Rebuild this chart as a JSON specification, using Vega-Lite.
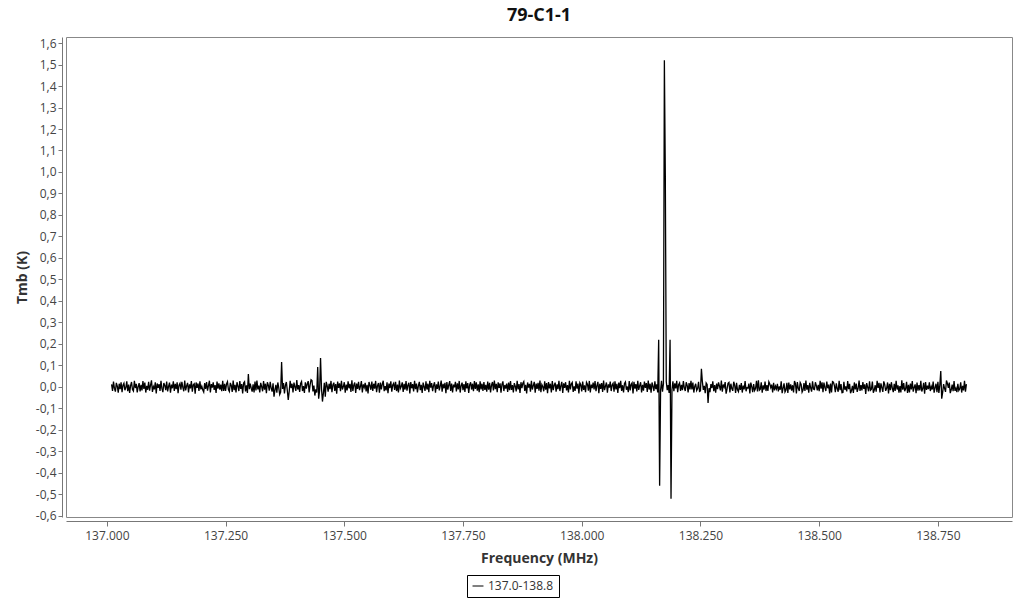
{
"$schema": "https://vega.github.io/schema/vega-lite/v6.json",
"width": 946, "height": 480,
"autosize": {"type": "none"},
"padding": {"left": 66, "top": 37, "right": 12, "bottom": 83},
"background": "white",
"title": {"text": "79-C1-1", "fontSize": 18, "font": "Open Sans", "fontWeight": "bold", "color": "#111111", "anchor": "middle", "offset": 12},
"config": {"view": {"stroke": "#888888", "strokeWidth": 1}, "font": "Open Sans"},
"data": {"values": [
{"f":137.010,"t":0.012},{"f":137.012,"t":-0.018},{"f":137.014,"t":0.025},{"f":137.016,"t":-0.007},{"f":137.018,"t":-0.022},{"f":137.020,"t":0.019},{"f":137.022,"t":0.004},{"f":137.024,"t":-0.027},{"f":137.026,"t":0.015},{"f":137.028,"t":-0.010},
{"f":137.030,"t":0.021},{"f":137.032,"t":-0.024},{"f":137.034,"t":0.008},{"f":137.036,"t":0.017},{"f":137.038,"t":-0.015},{"f":137.040,"t":-0.003},{"f":137.042,"t":0.026},{"f":137.044,"t":-0.020},{"f":137.046,"t":0.011},{"f":137.048,"t":-0.028},
{"f":137.050,"t":0.006},{"f":137.052,"t":0.023},{"f":137.054,"t":-0.012},{"f":137.056,"t":-0.019},{"f":137.058,"t":0.029},{"f":137.060,"t":-0.005},{"f":137.062,"t":0.014},{"f":137.064,"t":-0.025},{"f":137.066,"t":0.002},{"f":137.068,"t":0.018},
{"f":137.070,"t":-0.021},{"f":137.072,"t":0.010},{"f":137.074,"t":-0.016},{"f":137.076,"t":0.027},{"f":137.078,"t":-0.009},{"f":137.080,"t":0.020},{"f":137.082,"t":-0.026},{"f":137.084,"t":0.005},{"f":137.086,"t":-0.013},{"f":137.088,"t":0.024},
{"f":137.090,"t":-0.017},{"f":137.092,"t":0.009},{"f":137.094,"t":0.031},{"f":137.096,"t":-0.023},{"f":137.098,"t":0.001},{"f":137.100,"t":-0.011},{"f":137.102,"t":0.022},{"f":137.104,"t":-0.030},{"f":137.106,"t":0.016},{"f":137.108,"t":-0.004},
{"f":137.110,"t":0.013},{"f":137.112,"t":-0.019},{"f":137.114,"t":0.028},{"f":137.116,"t":-0.008},{"f":137.118,"t":-0.024},{"f":137.120,"t":0.018},{"f":137.122,"t":0.007},{"f":137.124,"t":-0.015},{"f":137.126,"t":0.025},{"f":137.128,"t":-0.021},
{"f":137.130,"t":0.003},{"f":137.132,"t":0.020},{"f":137.134,"t":-0.027},{"f":137.136,"t":0.011},{"f":137.138,"t":-0.006},{"f":137.140,"t":0.026},{"f":137.142,"t":-0.018},{"f":137.144,"t":0.014},{"f":137.146,"t":-0.010},{"f":137.148,"t":0.022},
{"f":137.150,"t":-0.029},{"f":137.152,"t":0.008},{"f":137.154,"t":0.017},{"f":137.156,"t":-0.013},{"f":137.158,"t":0.024},{"f":137.160,"t":-0.002},{"f":137.162,"t":-0.020},{"f":137.164,"t":0.030},{"f":137.166,"t":-0.016},{"f":137.168,"t":0.005},
{"f":137.170,"t":0.019},{"f":137.172,"t":-0.025},{"f":137.174,"t":0.012},{"f":137.176,"t":-0.007},{"f":137.178,"t":0.027},{"f":137.180,"t":-0.022},{"f":137.182,"t":0.010},{"f":137.184,"t":0.015},{"f":137.186,"t":-0.031},{"f":137.188,"t":0.021},
{"f":137.190,"t":-0.004},{"f":137.192,"t":0.016},{"f":137.194,"t":-0.019},{"f":137.196,"t":0.026},{"f":137.198,"t":-0.011},{"f":137.200,"t":0.003},{"f":137.202,"t":-0.014},{"f":137.204,"t":-0.024},{"f":137.206,"t":0.018},{"f":137.208,"t":-0.009},
{"f":137.210,"t":0.023},{"f":137.212,"t":-0.017},{"f":137.214,"t":0.006},{"f":137.216,"t":0.029},{"f":137.218,"t":-0.026},{"f":137.220,"t":0.013},{"f":137.222,"t":-0.003},{"f":137.224,"t":0.021},{"f":137.226,"t":-0.014},{"f":137.228,"t":0.009},
{"f":137.230,"t":-0.028},{"f":137.232,"t":0.025},{"f":137.234,"t":-0.008},{"f":137.236,"t":0.017},{"f":137.238,"t":-0.012},{"f":137.240,"t":0.011},{"f":137.242,"t":-0.020},{"f":137.244,"t":0.028},{"f":137.246,"t":-0.019},{"f":137.248,"t":0.014},
{"f":137.250,"t":-0.018},{"f":137.252,"t":0.014},{"f":137.254,"t":0.024},{"f":137.256,"t":-0.012},{"f":137.258,"t":-0.021},{"f":137.260,"t":0.019},{"f":137.262,"t":0.007},{"f":137.264,"t":-0.023},{"f":137.266,"t":0.030},{"f":137.268,"t":-0.015},
{"f":137.270,"t":0.010},{"f":137.272,"t":-0.026},{"f":137.274,"t":0.022},{"f":137.276,"t":0.004},{"f":137.278,"t":-0.019},{"f":137.280,"t":0.027},{"f":137.282,"t":-0.009},{"f":137.284,"t":0.013},{"f":137.286,"t":-0.030},{"f":137.288,"t":0.018},
{"f":137.290,"t":0.024},{"f":137.292,"t":-0.021},{"f":137.294,"t":0.008},{"f":137.296,"t":-0.028},{"f":137.298,"t":0.060},{"f":137.300,"t":-0.010},{"f":137.302,"t":0.016},{"f":137.304,"t":-0.006},{"f":137.306,"t":-0.022},{"f":137.308,"t":0.012},
{"f":137.310,"t":-0.025},{"f":137.312,"t":0.025},{"f":137.314,"t":-0.016},{"f":137.316,"t":0.030},{"f":137.318,"t":-0.011},{"f":137.320,"t":0.006},{"f":137.322,"t":-0.025},{"f":137.324,"t":0.019},{"f":137.326,"t":0.002},{"f":137.328,"t":-0.020},
{"f":137.330,"t":0.027},{"f":137.332,"t":-0.013},{"f":137.334,"t":0.015},{"f":137.336,"t":-0.029},{"f":137.338,"t":0.022},{"f":137.340,"t":0.008},{"f":137.342,"t":-0.017},{"f":137.344,"t":0.024},{"f":137.346,"t":-0.006},{"f":137.348,"t":-0.022},
{"f":137.350,"t":0.017},{"f":137.352,"t":-0.045},{"f":137.354,"t":-0.014},{"f":137.356,"t":0.010},{"f":137.358,"t":-0.027},{"f":137.360,"t":0.021},{"f":137.362,"t":-0.003},{"f":137.364,"t":-0.035},{"f":137.366,"t":-0.024},{"f":137.368,"t":0.116},
{"f":137.370,"t":-0.009},{"f":137.372,"t":0.018},{"f":137.374,"t":-0.030},{"f":137.376,"t":0.007},{"f":137.378,"t":0.023},{"f":137.380,"t":-0.016},{"f":137.382,"t":-0.060},{"f":137.384,"t":-0.021},{"f":137.386,"t":0.028},{"f":137.388,"t":-0.005},
{"f":137.390,"t":0.015},{"f":137.392,"t":-0.026},{"f":137.394,"t":0.020},{"f":137.396,"t":0.001},{"f":137.398,"t":-0.018},{"f":137.400,"t":0.032},{"f":137.402,"t":-0.012},{"f":137.404,"t":0.009},{"f":137.406,"t":-0.023},{"f":137.408,"t":0.016},
{"f":137.410,"t":0.025},{"f":137.412,"t":-0.019},{"f":137.414,"t":0.004},{"f":137.416,"t":-0.028},{"f":137.418,"t":0.022},{"f":137.420,"t":-0.008},{"f":137.422,"t":0.014},{"f":137.424,"t":0.027},{"f":137.426,"t":-0.025},{"f":137.428,"t":0.010},
{"f":137.430,"t":0.034},{"f":137.432,"t":0.030},{"f":137.434,"t":-0.021},{"f":137.436,"t":0.006},{"f":137.438,"t":-0.040},{"f":137.440,"t":-0.011},{"f":137.442,"t":-0.026},{"f":137.444,"t":0.093},{"f":137.446,"t":-0.055},{"f":137.448,"t":-0.017},
{"f":137.450,"t":0.135},{"f":137.452,"t":-0.007},{"f":137.454,"t":-0.068},{"f":137.456,"t":-0.029},{"f":137.458,"t":0.019},{"f":137.460,"t":-0.045},{"f":137.462,"t":0.024},{"f":137.464,"t":0.005},{"f":137.466,"t":-0.022},{"f":137.468,"t":0.015},
{"f":137.470,"t":-0.010},{"f":137.472,"t":0.028},{"f":137.474,"t":-0.024},{"f":137.476,"t":0.009},{"f":137.478,"t":0.020},{"f":137.480,"t":-0.018},{"f":137.482,"t":0.013},{"f":137.484,"t":-0.031},{"f":137.486,"t":0.025},{"f":137.488,"t":-0.004},
{"f":137.490,"t":0.017},{"f":137.492,"t":-0.020},{"f":137.494,"t":0.029},{"f":137.496,"t":-0.012},{"f":137.498,"t":0.002},{"f":137.500,"t":0.022},{"f":137.502,"t":-0.027},{"f":137.504,"t":0.011},{"f":137.506,"t":-0.016},{"f":137.508,"t":0.026},
{"f":137.510,"t":-0.006},{"f":137.512,"t":0.014},{"f":137.514,"t":-0.023},{"f":137.516,"t":0.031},{"f":137.518,"t":-0.019},{"f":137.520,"t":0.008},{"f":137.522,"t":0.021},{"f":137.524,"t":-0.028},{"f":137.526,"t":0.016},{"f":137.528,"t":-0.009},
{"f":137.530,"t":0.024},{"f":137.532,"t":-0.015},{"f":137.534,"t":0.003},{"f":137.536,"t":0.027},{"f":137.538,"t":-0.025},{"f":137.540,"t":0.012},{"f":137.542,"t":-0.002},{"f":137.544,"t":0.019},{"f":137.546,"t":-0.021},{"f":137.548,"t":0.010},
{"f":137.550,"t":-0.030},{"f":137.552,"t":0.023},{"f":137.554,"t":0.007},{"f":137.556,"t":-0.013},{"f":137.558,"t":0.025},{"f":137.560,"t":-0.018},{"f":137.562,"t":0.015},{"f":137.564,"t":-0.008},{"f":137.566,"t":0.028},{"f":137.568,"t":-0.024},
{"f":137.570,"t":0.006},{"f":137.572,"t":0.018},{"f":137.574,"t":-0.027},{"f":137.576,"t":0.020},{"f":137.578,"t":-0.011},{"f":137.580,"t":0.013},{"f":137.582,"t":0.029},{"f":137.584,"t":-0.020},{"f":137.586,"t":0.004},{"f":137.588,"t":-0.016},
{"f":137.590,"t":0.022},{"f":137.592,"t":-0.029},{"f":137.594,"t":0.016},{"f":137.596,"t":-0.005},{"f":137.598,"t":0.026},{"f":137.600,"t":-0.022},{"f":137.602,"t":0.009},{"f":137.604,"t":0.017},{"f":137.606,"t":-0.014},{"f":137.608,"t":0.024},
{"f":137.610,"t":-0.019},{"f":137.612,"t":0.011},{"f":137.614,"t":-0.026},{"f":137.616,"t":0.030},{"f":137.618,"t":-0.008},{"f":137.620,"t":0.002},{"f":137.622,"t":0.021},{"f":137.624,"t":-0.023},{"f":137.626,"t":0.014},{"f":137.628,"t":-0.012},
{"f":137.630,"t":0.027},{"f":137.632,"t":-0.017},{"f":137.634,"t":0.008},{"f":137.636,"t":0.019},{"f":137.638,"t":-0.030},{"f":137.640,"t":0.023},{"f":137.642,"t":-0.006},{"f":137.644,"t":0.013},{"f":137.646,"t":-0.021},{"f":137.648,"t":0.028},
{"f":137.650,"t":-0.010},{"f":137.652,"t":0.016},{"f":137.654,"t":-0.025},{"f":137.656,"t":0.005},{"f":137.658,"t":0.024},{"f":137.660,"t":-0.015},{"f":137.662,"t":0.010},{"f":137.664,"t":-0.028},{"f":137.666,"t":0.020},{"f":137.668,"t":0.001},
{"f":137.670,"t":-0.018},{"f":137.672,"t":0.026},{"f":137.674,"t":-0.012},{"f":137.676,"t":0.015},{"f":137.678,"t":-0.024},{"f":137.680,"t":0.029},{"f":137.682,"t":-0.003},{"f":137.684,"t":0.018},{"f":137.686,"t":-0.020},{"f":137.688,"t":0.007},
{"f":137.690,"t":0.022},{"f":137.692,"t":-0.027},{"f":137.694,"t":0.012},{"f":137.696,"t":-0.009},{"f":137.698,"t":0.025},{"f":137.700,"t":-0.016},{"f":137.702,"t":0.004},{"f":137.704,"t":0.030},{"f":137.706,"t":-0.022},{"f":137.708,"t":0.014},
{"f":137.710,"t":-0.006},{"f":137.712,"t":0.019},{"f":137.714,"t":-0.029},{"f":137.716,"t":0.023},{"f":137.718,"t":-0.013},{"f":137.720,"t":0.009},{"f":137.722,"t":0.027},{"f":137.724,"t":-0.019},{"f":137.726,"t":0.016},{"f":137.728,"t":-0.025},
{"f":137.730,"t":0.011},{"f":137.732,"t":-0.002},{"f":137.734,"t":0.024},{"f":137.736,"t":-0.021},{"f":137.738,"t":0.017},{"f":137.740,"t":-0.011},{"f":137.742,"t":0.028},{"f":137.744,"t":-0.026},{"f":137.746,"t":0.006},{"f":137.748,"t":0.020},
{"f":137.750,"t":-0.015},{"f":137.752,"t":0.013},{"f":137.754,"t":-0.023},{"f":137.756,"t":0.026},{"f":137.758,"t":-0.007},{"f":137.760,"t":0.018},{"f":137.762,"t":-0.028},{"f":137.764,"t":0.010},{"f":137.766,"t":0.022},{"f":137.768,"t":-0.012},
{"f":137.770,"t":0.015},{"f":137.772,"t":-0.020},{"f":137.774,"t":0.027},{"f":137.776,"t":-0.009},{"f":137.778,"t":0.021},{"f":137.780,"t":-0.017},{"f":137.782,"t":0.012},{"f":137.784,"t":-0.024},{"f":137.786,"t":0.026},{"f":137.788,"t":-0.011},
{"f":137.790,"t":0.015},{"f":137.792,"t":-0.018},{"f":137.794,"t":0.023},{"f":137.796,"t":-0.014},{"f":137.798,"t":0.010},{"f":137.800,"t":-0.022},{"f":137.802,"t":0.025},{"f":137.804,"t":-0.013},{"f":137.806,"t":0.019},{"f":137.808,"t":-0.026},
{"f":137.810,"t":0.008},{"f":137.812,"t":0.023},{"f":137.814,"t":-0.016},{"f":137.816,"t":0.030},{"f":137.818,"t":-0.010},{"f":137.820,"t":0.014},{"f":137.822,"t":-0.024},{"f":137.824,"t":0.021},{"f":137.826,"t":-0.004},{"f":137.828,"t":0.017},
{"f":137.830,"t":-0.027},{"f":137.832,"t":0.012},{"f":137.834,"t":0.026},{"f":137.836,"t":-0.019},{"f":137.838,"t":0.009},{"f":137.840,"t":-0.008},{"f":137.842,"t":0.016},{"f":137.844,"t":-0.023},{"f":137.846,"t":0.020},{"f":137.848,"t":-0.015},
{"f":137.850,"t":0.027},{"f":137.852,"t":-0.014},{"f":137.854,"t":0.009},{"f":137.856,"t":-0.025},{"f":137.858,"t":0.018},{"f":137.860,"t":0.004},{"f":137.862,"t":-0.021},{"f":137.864,"t":0.029},{"f":137.866,"t":-0.011},{"f":137.868,"t":0.013},
{"f":137.870,"t":-0.028},{"f":137.872,"t":0.022},{"f":137.874,"t":-0.006},{"f":137.876,"t":0.017},{"f":137.878,"t":0.025},{"f":137.880,"t":-0.018},{"f":137.882,"t":0.010},{"f":137.884,"t":-0.030},{"f":137.886,"t":0.021},{"f":137.888,"t":-0.003},
{"f":137.890,"t":0.014},{"f":137.892,"t":-0.022},{"f":137.894,"t":0.028},{"f":137.896,"t":-0.012},{"f":137.898,"t":0.006},{"f":137.900,"t":0.024},{"f":137.902,"t":-0.027},{"f":137.904,"t":0.016},{"f":137.906,"t":-0.009},{"f":137.908,"t":0.019},
{"f":137.910,"t":-0.017},{"f":137.912,"t":0.030},{"f":137.914,"t":-0.024},{"f":137.916,"t":0.011},{"f":137.918,"t":0.001},{"f":137.920,"t":-0.020},{"f":137.922,"t":0.026},{"f":137.924,"t":-0.013},{"f":137.926,"t":0.018},{"f":137.928,"t":-0.029},
{"f":137.930,"t":0.023},{"f":137.932,"t":-0.007},{"f":137.934,"t":0.015},{"f":137.936,"t":-0.025},{"f":137.938,"t":0.027},{"f":137.940,"t":-0.015},{"f":137.942,"t":0.008},{"f":137.944,"t":0.020},{"f":137.946,"t":-0.022},{"f":137.948,"t":0.012},
{"f":137.950,"t":-0.010},{"f":137.952,"t":0.028},{"f":137.954,"t":-0.019},{"f":137.956,"t":0.005},{"f":137.958,"t":0.024},{"f":137.960,"t":-0.028},{"f":137.962,"t":0.017},{"f":137.964,"t":-0.004},{"f":137.966,"t":0.022},{"f":137.968,"t":-0.016},
{"f":137.970,"t":0.009},{"f":137.972,"t":-0.026},{"f":137.974,"t":0.029},{"f":137.976,"t":-0.011},{"f":137.978,"t":0.014},{"f":137.980,"t":0.021},{"f":137.982,"t":-0.023},{"f":137.984,"t":0.003},{"f":137.986,"t":-0.018},{"f":137.988,"t":0.026},
{"f":137.990,"t":-0.008},{"f":137.992,"t":0.016},{"f":137.994,"t":-0.030},{"f":137.996,"t":0.019},{"f":137.998,"t":0.010},{"f":138.000,"t":-0.021},{"f":138.002,"t":0.025},{"f":138.004,"t":-0.014},{"f":138.006,"t":0.007},{"f":138.008,"t":-0.024},
{"f":138.010,"t":0.022},{"f":138.012,"t":0.013},{"f":138.014,"t":-0.017},{"f":138.016,"t":0.028},{"f":138.018,"t":-0.026},{"f":138.020,"t":0.011},{"f":138.022,"t":-0.005},{"f":138.024,"t":0.020},{"f":138.026,"t":-0.012},{"f":138.028,"t":0.027},
{"f":138.030,"t":-0.020},{"f":138.032,"t":0.006},{"f":138.034,"t":0.024},{"f":138.036,"t":-0.029},{"f":138.038,"t":0.015},{"f":138.040,"t":-0.009},{"f":138.042,"t":0.018},{"f":138.044,"t":-0.023},{"f":138.046,"t":0.030},{"f":138.048,"t":-0.015},
{"f":138.050,"t":0.004},{"f":138.052,"t":0.021},{"f":138.054,"t":-0.027},{"f":138.056,"t":0.012},{"f":138.058,"t":-0.003},{"f":138.060,"t":0.025},{"f":138.062,"t":-0.019},{"f":138.064,"t":0.009},{"f":138.066,"t":0.017},{"f":138.068,"t":-0.022},
{"f":138.070,"t":0.026},{"f":138.072,"t":-0.011},{"f":138.074,"t":0.014},{"f":138.076,"t":-0.028},{"f":138.078,"t":0.020},{"f":138.080,"t":-0.006},{"f":138.082,"t":0.029},{"f":138.084,"t":-0.018},{"f":138.086,"t":0.008},{"f":138.088,"t":-0.025},
{"f":138.090,"t":0.016},{"f":138.092,"t":0.023},{"f":138.094,"t":-0.013},{"f":138.096,"t":0.002},{"f":138.098,"t":-0.024},{"f":138.100,"t":0.027},{"f":138.102,"t":-0.016},{"f":138.104,"t":0.011},{"f":138.106,"t":0.019},{"f":138.108,"t":-0.030},
{"f":138.110,"t":0.024},{"f":138.112,"t":-0.008},{"f":138.114,"t":0.013},{"f":138.116,"t":-0.021},{"f":138.118,"t":0.028},{"f":138.120,"t":-0.014},{"f":138.122,"t":0.006},{"f":138.124,"t":0.022},{"f":138.126,"t":-0.026},{"f":138.128,"t":0.010},
{"f":138.130,"t":-0.017},{"f":138.132,"t":0.025},{"f":138.134,"t":-0.004},{"f":138.136,"t":0.018},{"f":138.138,"t":-0.023},{"f":138.140,"t":0.030},{"f":138.142,"t":-0.012},{"f":138.144,"t":0.015},{"f":138.146,"t":-0.027},{"f":138.148,"t":0.021},
{"f":138.150,"t":0.003},{"f":138.152,"t":-0.019},{"f":138.154,"t":0.026},{"f":138.156,"t":-0.010},{"f":138.158,"t":0.012},{"f":138.160,"t":-0.025},{"f":138.162,"t":0.220},{"f":138.164,"t":-0.460},{"f":138.166,"t":-0.016},{"f":138.168,"t":0.028},
{"f":138.170,"t":-0.022},{"f":138.172,"t":0.014},{"f":138.174,"t":1.520},{"f":138.176,"t":0.980},{"f":138.178,"t":0.024},{"f":138.180,"t":-0.015},{"f":138.182,"t":0.009},{"f":138.184,"t":-0.028},{"f":138.186,"t":0.220},{"f":138.188,"t":-0.520},
{"f":138.190,"t":-0.013},{"f":138.192,"t":0.026},{"f":138.194,"t":-0.020},{"f":138.196,"t":0.017},{"f":138.198,"t":-0.007},{"f":138.200,"t":0.029},{"f":138.202,"t":-0.024},{"f":138.204,"t":0.011},{"f":138.206,"t":0.019},{"f":138.208,"t":-0.018},
{"f":138.210,"t":0.010},{"f":138.212,"t":-0.015},{"f":138.214,"t":0.027},{"f":138.216,"t":-0.004},{"f":138.218,"t":-0.019},{"f":138.220,"t":0.022},{"f":138.222,"t":0.007},{"f":138.224,"t":-0.025},{"f":138.226,"t":0.018},{"f":138.228,"t":-0.012},
{"f":138.230,"t":0.028},{"f":138.232,"t":-0.011},{"f":138.234,"t":0.020},{"f":138.236,"t":-0.026},{"f":138.238,"t":0.003},{"f":138.240,"t":0.015},{"f":138.242,"t":-0.017},{"f":138.244,"t":-0.008},{"f":138.246,"t":0.024},{"f":138.248,"t":-0.021},
{"f":138.250,"t":-0.018},{"f":138.252,"t":0.084},{"f":138.254,"t":0.025},{"f":138.256,"t":-0.014},{"f":138.258,"t":0.005},{"f":138.260,"t":-0.029},{"f":138.262,"t":0.019},{"f":138.264,"t":0.012},{"f":138.266,"t":-0.075},{"f":138.268,"t":-0.006},
{"f":138.270,"t":-0.024},{"f":138.272,"t":0.013},{"f":138.274,"t":-0.005},{"f":138.276,"t":0.026},{"f":138.278,"t":-0.020},{"f":138.280,"t":0.009},{"f":138.282,"t":-0.027},{"f":138.284,"t":0.016},{"f":138.286,"t":-0.010},{"f":138.288,"t":0.021},
{"f":138.290,"t":0.004},{"f":138.292,"t":-0.016},{"f":138.294,"t":0.030},{"f":138.296,"t":-0.022},{"f":138.298,"t":0.011},{"f":138.300,"t":-0.001},{"f":138.302,"t":0.023},{"f":138.304,"t":-0.031},{"f":138.306,"t":-0.009},{"f":138.308,"t":0.017},
{"f":138.310,"t":0.021},{"f":138.312,"t":-0.025},{"f":138.314,"t":0.015},{"f":138.316,"t":-0.007},{"f":138.318,"t":-0.018},{"f":138.320,"t":0.024},{"f":138.322,"t":0.008},{"f":138.324,"t":-0.028},{"f":138.326,"t":0.019},{"f":138.328,"t":-0.013},
{"f":138.330,"t":-0.022},{"f":138.332,"t":0.010},{"f":138.334,"t":-0.014},{"f":138.336,"t":0.018},{"f":138.338,"t":-0.026},{"f":138.340,"t":0.006},{"f":138.342,"t":-0.011},{"f":138.344,"t":0.027},{"f":138.346,"t":-0.020},{"f":138.348,"t":-0.003},
{"f":138.350,"t":-0.005},{"f":138.352,"t":0.016},{"f":138.354,"t":-0.030},{"f":138.356,"t":0.020},{"f":138.358,"t":0.002},{"f":138.360,"t":-0.024},{"f":138.362,"t":0.013},{"f":138.364,"t":-0.017},{"f":138.366,"t":-0.008},{"f":138.368,"t":0.029},
{"f":138.370,"t":-0.021},{"f":138.372,"t":0.031},{"f":138.374,"t":-0.015},{"f":138.376,"t":-0.010},{"f":138.378,"t":0.022},{"f":138.380,"t":-0.027},{"f":138.382,"t":0.007},{"f":138.384,"t":-0.012},{"f":138.386,"t":0.025},{"f":138.388,"t":-0.019},
{"f":138.390,"t":0.009},{"f":138.392,"t":-0.018},{"f":138.394,"t":0.024},{"f":138.396,"t":0.014},{"f":138.398,"t":-0.003},{"f":138.400,"t":0.011},{"f":138.402,"t":-0.026},{"f":138.404,"t":0.019},{"f":138.406,"t":-0.016},{"f":138.408,"t":0.004},
{"f":138.410,"t":-0.009},{"f":138.412,"t":0.014},{"f":138.414,"t":-0.021},{"f":138.416,"t":0.003},{"f":138.418,"t":-0.013},{"f":138.420,"t":0.026},{"f":138.422,"t":-0.029},{"f":138.424,"t":-0.006},{"f":138.426,"t":0.017},{"f":138.428,"t":-0.023},
{"f":138.430,"t":-0.014},{"f":138.432,"t":0.019},{"f":138.434,"t":-0.028},{"f":138.436,"t":0.020},{"f":138.438,"t":-0.011},{"f":138.440,"t":0.012},{"f":138.442,"t":-0.017},{"f":138.444,"t":0.008},{"f":138.446,"t":-0.025},{"f":138.448,"t":0.028},
{"f":138.450,"t":0.015},{"f":138.452,"t":-0.030},{"f":138.454,"t":0.023},{"f":138.456,"t":-0.007},{"f":138.458,"t":-0.019},{"f":138.460,"t":0.021},{"f":138.462,"t":0.012},{"f":138.464,"t":-0.024},{"f":138.466,"t":-0.014},{"f":138.468,"t":0.018},
{"f":138.470,"t":-0.018},{"f":138.472,"t":0.030},{"f":138.474,"t":-0.013},{"f":138.476,"t":0.009},{"f":138.478,"t":-0.027},{"f":138.480,"t":0.019},{"f":138.482,"t":-0.004},{"f":138.484,"t":-0.022},{"f":138.486,"t":0.026},{"f":138.488,"t":-0.010},
{"f":138.490,"t":-0.012},{"f":138.492,"t":0.022},{"f":138.494,"t":0.006},{"f":138.496,"t":-0.016},{"f":138.498,"t":0.010},{"f":138.500,"t":-0.020},{"f":138.502,"t":0.028},{"f":138.504,"t":-0.008},{"f":138.506,"t":0.021},{"f":138.508,"t":-0.024},
{"f":138.510,"t":0.020},{"f":138.512,"t":-0.002},{"f":138.514,"t":-0.019},{"f":138.516,"t":0.025},{"f":138.518,"t":-0.006},{"f":138.520,"t":0.011},{"f":138.522,"t":-0.030},{"f":138.524,"t":0.016},{"f":138.526,"t":-0.025},{"f":138.528,"t":0.025},
{"f":138.530,"t":0.022},{"f":138.532,"t":0.006},{"f":138.534,"t":-0.024},{"f":138.536,"t":0.017},{"f":138.538,"t":-0.008},{"f":138.540,"t":-0.022},{"f":138.542,"t":0.029},{"f":138.544,"t":-0.015},{"f":138.546,"t":0.013},{"f":138.548,"t":-0.027},
{"f":138.550,"t":-0.026},{"f":138.552,"t":0.024},{"f":138.554,"t":-0.013},{"f":138.556,"t":0.003},{"f":138.558,"t":-0.021},{"f":138.560,"t":0.027},{"f":138.562,"t":-0.010},{"f":138.564,"t":0.014},{"f":138.566,"t":-0.029},{"f":138.568,"t":-0.017},
{"f":138.570,"t":0.005},{"f":138.572,"t":-0.028},{"f":138.574,"t":0.021},{"f":138.576,"t":-0.011},{"f":138.578,"t":0.016},{"f":138.580,"t":-0.023},{"f":138.582,"t":-0.007},{"f":138.584,"t":0.030},{"f":138.586,"t":-0.018},{"f":138.588,"t":0.009},
{"f":138.590,"t":-0.016},{"f":138.592,"t":0.023},{"f":138.594,"t":-0.009},{"f":138.596,"t":0.012},{"f":138.598,"t":-0.032},{"f":138.600,"t":0.018},{"f":138.602,"t":-0.001},{"f":138.604,"t":-0.020},{"f":138.606,"t":0.026},{"f":138.608,"t":-0.015},
{"f":138.610,"t":-0.010},{"f":138.612,"t":0.025},{"f":138.614,"t":-0.027},{"f":138.616,"t":-0.014},{"f":138.618,"t":0.008},{"f":138.620,"t":-0.022},{"f":138.622,"t":0.028},{"f":138.624,"t":-0.004},{"f":138.626,"t":0.019},{"f":138.628,"t":-0.025},
{"f":138.630,"t":0.017},{"f":138.632,"t":-0.003},{"f":138.634,"t":-0.023},{"f":138.636,"t":0.026},{"f":138.638,"t":0.011},{"f":138.640,"t":-0.018},{"f":138.642,"t":-0.006},{"f":138.644,"t":0.021},{"f":138.646,"t":-0.030},{"f":138.648,"t":0.015},
{"f":138.650,"t":-0.015},{"f":138.652,"t":0.022},{"f":138.654,"t":-0.005},{"f":138.656,"t":-0.024},{"f":138.658,"t":0.014},{"f":138.660,"t":-0.019},{"f":138.662,"t":0.029},{"f":138.664,"t":-0.012},{"f":138.666,"t":0.007},{"f":138.668,"t":-0.026},
{"f":138.670,"t":0.004},{"f":138.672,"t":-0.025},{"f":138.674,"t":0.031},{"f":138.676,"t":-0.013},{"f":138.678,"t":0.018},{"f":138.680,"t":-0.020},{"f":138.682,"t":-0.009},{"f":138.684,"t":0.024},{"f":138.686,"t":-0.028},{"f":138.688,"t":0.010},
{"f":138.690,"t":-0.026},{"f":138.692,"t":0.016},{"f":138.694,"t":-0.011},{"f":138.696,"t":0.027},{"f":138.698,"t":-0.022},{"f":138.700,"t":-0.002},{"f":138.702,"t":0.012},{"f":138.704,"t":-0.029},{"f":138.706,"t":0.020},{"f":138.708,"t":-0.017},
{"f":138.710,"t":0.009},{"f":138.712,"t":-0.016},{"f":138.714,"t":0.028},{"f":138.716,"t":-0.021},{"f":138.718,"t":-0.008},{"f":138.720,"t":0.019},{"f":138.722,"t":-0.031},{"f":138.724,"t":0.023},{"f":138.726,"t":-0.014},{"f":138.728,"t":0.006},
{"f":138.730,"t":-0.010},{"f":138.732,"t":0.021},{"f":138.734,"t":-0.019},{"f":138.736,"t":0.002},{"f":138.738,"t":-0.012},{"f":138.740,"t":0.025},{"f":138.742,"t":-0.027},{"f":138.744,"t":-0.003},{"f":138.746,"t":0.015},{"f":138.748,"t":-0.024},
{"f":138.750,"t":0.024},{"f":138.752,"t":-0.028},{"f":138.754,"t":0.008},{"f":138.756,"t":0.074},{"f":138.758,"t":-0.055},{"f":138.760,"t":-0.025},{"f":138.762,"t":0.013},{"f":138.764,"t":-0.007},{"f":138.766,"t":-0.023},{"f":138.768,"t":0.030},
{"f":138.770,"t":0.016},{"f":138.772,"t":-0.004},{"f":138.774,"t":0.020},{"f":138.776,"t":-0.029},{"f":138.778,"t":-0.013},{"f":138.780,"t":0.011},{"f":138.782,"t":-0.020},{"f":138.784,"t":0.027},{"f":138.786,"t":-0.018},{"f":138.788,"t":-0.006},
{"f":138.790,"t":-0.024},{"f":138.792,"t":0.014},{"f":138.794,"t":-0.017},{"f":138.796,"t":-0.009},{"f":138.798,"t":0.022},{"f":138.800,"t":-0.026},{"f":138.802,"t":0.005},{"f":138.804,"t":-0.016},{"f":138.806,"t":0.029},{"f":138.808,"t":-0.022},
{"f":138.810,"t":0.013}
]},
"mark": {"type": "line", "strokeWidth": 1.3, "color": "#000000"},
"encoding": {
"x": {"field": "f", "type": "quantitative",
 "scale": {"domain": [136.914, 138.906], "nice": false, "zero": false},
 "axis": {"title": "Frequency (MHz)", "values": [137, 137.25, 137.5, 137.75, 138, 138.25, 138.5, 138.75], "format": ".3f", "offset": 4, "grid": false, "domainColor": "#777777", "tickColor": "#777777", "tickSize": 5, "labelColor": "#444444", "labelFontSize": 12, "labelPadding": 4, "titleFontSize": 14, "titleFontWeight": "bold", "titleColor": "#333333", "titlePadding": 10}},
"y": {"field": "t", "type": "quantitative",
 "scale": {"domain": [-0.605, 1.628], "nice": false, "zero": false},
 "axis": {"title": "Tmb (K)", "values": [-0.6, -0.5, -0.4, -0.3, -0.2, -0.1, 0, 0.1, 0.2, 0.3, 0.4, 0.5, 0.6, 0.7, 0.8, 0.9, 1, 1.1, 1.2, 1.3, 1.4, 1.5, 1.6], "labelExpr": "replace(replace(format(datum.value, '.1f'), '.', ','), '−', '-')", "offset": 4, "grid": false, "domainColor": "#777777", "tickColor": "#777777", "tickSize": 4, "labelColor": "#444444", "labelFontSize": 12, "labelPadding": 2, "titleFontSize": 14, "titleFontWeight": "bold", "titleColor": "#333333", "titlePadding": 6}},
"color": {"datum": "137.0-138.8", "type": "nominal", "scale": {"range": ["#000000"]},
 "legend": {"orient": "none", "legendX": 401, "legendY": 538, "title": null, "symbolType": "stroke", "symbolStrokeWidth": 1, "symbolSize": 120, "strokeColor": "#000000", "padding": 5, "labelFontSize": 12, "labelColor": "#333333", "labelFont": "Open Sans"}}
}
}
